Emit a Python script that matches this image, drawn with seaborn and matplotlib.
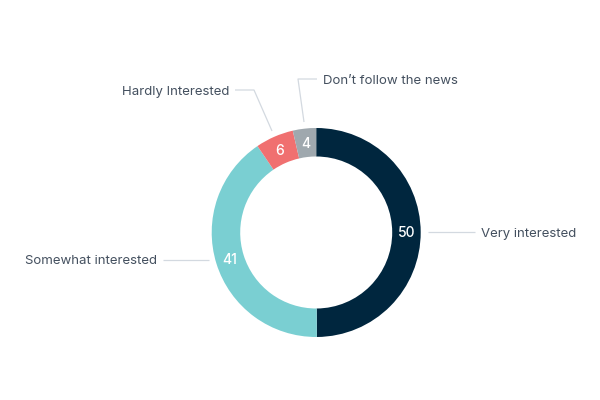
import matplotlib.pyplot as plt
import seaborn as sns
import numpy as np

# Interest in news, share of respondents (%)
categories = ["Very interested", "Somewhat interested", "Hardly Interested", "Don\u2019t follow the news"]
shares = [49.9, 40.6, 5.9, 3.6]
colors = ["#00263e", "#7acfd2", "#f07070", "#9fa8ae"]

sns.set_theme(style="white")
plt.rcParams["font.family"] = ["Inter", "DejaVu Sans"]

W, H = 600, 400
fig = plt.figure(figsize=(6, 4), dpi=100)
ax = fig.add_axes([0, 0, 1, 1])

cx, cy = 316.2, H - 232.5
r_out = 104.5
ring = 28.5

wedges, _ = ax.pie(
    shares,
    colors=colors,
    startangle=90,
    counterclock=False,
    center=(cx, cy),
    radius=r_out,
    wedgeprops=dict(width=ring, linewidth=0),
)

# value labels inside the ring
r_lab = r_out - ring / 2
for w, v in zip(wedges, shares):
    ang = np.deg2rad((w.theta1 + w.theta2) / 2)
    ax.text(cx + r_lab * np.cos(ang), cy + r_lab * np.sin(ang) - 1, f"{v:.0f}",
            color="white", fontsize=10, fontweight="medium", ha="center", va="center")

# leader lines and category labels (pixel coordinates, y flipped)
line_kw = dict(color="#d3d9e0", lw=0.9, solid_capstyle="butt")
txt_kw = dict(color="#44505f", fontsize=9.5, va="center")

def px(pts):
    xs = [p[0] for p in pts]
    ys = [H - p[1] for p in pts]
    return xs, ys

ax.plot(*px([(428, 232), (475, 232)]), **line_kw)
ax.text(481, H - 233.5, categories[0], ha="left", **txt_kw)

ax.plot(*px([(209, 260), (163, 260)]), **line_kw)
ax.text(157, H - 261.5, categories[1], ha="right", **txt_kw)

ax.plot(*px([(272, 131), (254, 90), (235, 90)]), **line_kw)
ax.text(229, H - 91.5, categories[2], ha="right", **txt_kw)

ax.plot(*px([(304, 122), (298, 79), (317, 79)]), **line_kw)
ax.text(323, H - 80.5, categories[3], ha="left", **txt_kw)

ax.set_xlim(0, W)
ax.set_ylim(0, H)
ax.set_aspect("equal")
ax.axis("off")

fig.savefig("out.png", dpi=100, facecolor="white")
